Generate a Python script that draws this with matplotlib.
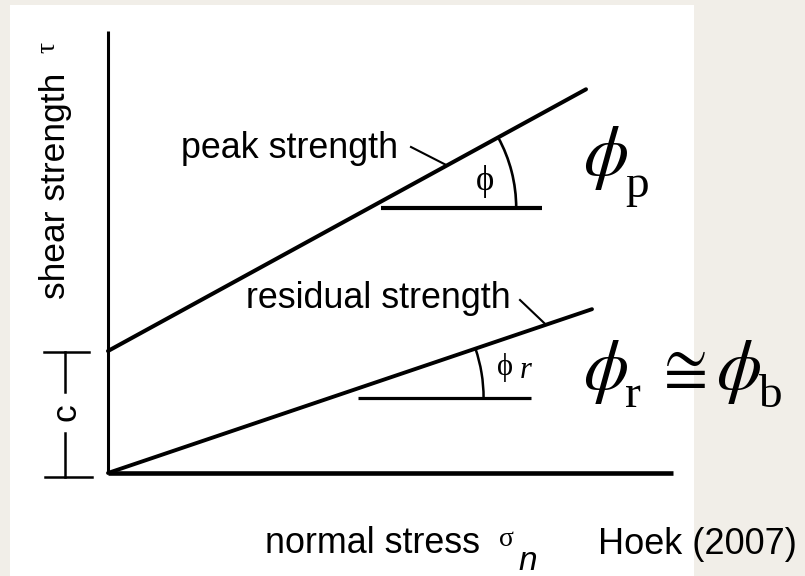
import numpy as np
import matplotlib
matplotlib.use("Agg")
import matplotlib.pyplot as plt
from matplotlib.patches import Arc, Rectangle

# Mohr-Coulomb strength envelopes (diagram units: 1 unit = 1 px)
cohesion = 122.0          # intercept of peak envelope on the tau axis
phi_peak_deg = 28.7       # peak friction angle
phi_resid_deg = 18.7      # residual friction angle
sigma_end_peak = 478.0    # extent of peak envelope along sigma_n
sigma_end_resid = 484.0   # extent of residual envelope along sigma_n
sigma_axis_max = 565.0
tau_axis_max = 442.0

# horizontal reference segments and angle arcs
peak_ref = (273.0, 434.0)      # sigma range of peak reference segment
resid_ref = (250.0, 423.0)
peak_ref_tau = 265.0
resid_ref_tau = 75.0
peak_arc_r = 147.0
resid_arc_r = 154.0

labels = {
    "peak": "peak strength",
    "resid": "residual strength",
    "xlabel": "normal stress",
    "ylabel": "shear strength",
    "source": "Hoek (2007)",
}

BG = "#F1EEE8"
SANS = ["Liberation Sans", "DejaVu Sans"]
SERIF = ["Liberation Serif", "DejaVu Serif"]
plt.rcParams["mathtext.fontset"] = "stix"

fig = plt.figure(figsize=(8.05, 5.76), dpi=100, facecolor=BG)
ax = fig.add_axes([0, 0, 1, 1])
ax.set_xlim(-108, 697)
ax.set_ylim(-103, 473)
ax.axis("off")

# white drawing panel
ax.add_patch(Rectangle((-98, -103), 684, 571, facecolor="white",
                       edgecolor="none", zorder=0))

# axes of the diagram
ax.plot([0, 0], [0, tau_axis_max], color="black", lw=2.2, solid_capstyle="butt")
ax.plot([0, sigma_axis_max], [0, 0], color="black", lw=3.3, solid_capstyle="butt")

# envelopes
tp = np.tan(np.radians(phi_peak_deg))
tr = np.tan(np.radians(phi_resid_deg))
sp = np.array([0, sigma_end_peak])
sr = np.array([0, sigma_end_resid])
ax.plot(sp, cohesion + tp * sp, color="black", lw=2.9, solid_capstyle="round")
ax.plot(sr, tr * sr, color="black", lw=2.8, solid_capstyle="round")

# reference segments
ax.plot(peak_ref, [peak_ref_tau] * 2, color="black", lw=3.0, solid_capstyle="butt")
ax.plot(resid_ref, [resid_ref_tau] * 2, color="black", lw=2.3, solid_capstyle="butt")

# angle arcs, centred where each envelope crosses its reference level
cx_p = (peak_ref_tau - cohesion) / tp
cx_r = resid_ref_tau / tr
ax.add_patch(Arc((cx_p, peak_ref_tau), 2 * peak_arc_r, 2 * peak_arc_r,
                 theta1=0, theta2=phi_peak_deg, color="black", lw=1.9))
ax.add_patch(Arc((cx_r, resid_ref_tau), 2 * resid_arc_r, 2 * resid_arc_r,
                 theta1=0, theta2=phi_resid_deg, color="black", lw=1.8))

# leader lines from labels to envelopes
lp_x = 339.0
ax.plot([303, lp_x], [326, cohesion + tp * lp_x], color="black", lw=1.5)
lr_x = 438.0
ax.plot([412, lr_x], [173, tr * lr_x], color="black", lw=1.5)

ax.text(290, 324, labels["peak"], ha="right", va="center",
        fontsize=25.8, family=SANS)
ax.text(403, 174, labels["resid"], ha="right", va="center",
        fontsize=25.8, family=SANS)

# angle symbols
ax.text(377, 291, "\u03d5", ha="center", va="center", fontsize=25, family=SERIF)
ax.text(397, 106, "\u03d5", ha="center", va="center", fontsize=22, family=SERIF)
ax.text(418, 103, "r", ha="center", va="center", fontsize=22,
        family=SERIF, style="italic")

# cohesion bracket
ax.plot([-64, -19], [cohesion - 1, cohesion - 1], color="black", lw=1.8)
ax.plot([-63, -16], [-4, -4], color="black", lw=1.8)
ax.plot([-43, -43], [cohesion - 1, 81], color="black", lw=1.8)
ax.plot([-43, -43], [40, -4], color="black", lw=1.8)
ax.text(-33, 61, "c", rotation=90, rotation_mode="anchor", ha="center",
        va="baseline", fontsize=25.5, family=SANS)

# axis titles
ax.text(-43, 287, labels["ylabel"], rotation=90, rotation_mode="anchor",
        ha="center", va="baseline", fontsize=25.5, family=SANS)
ax.text(-60, 426, "\u03c4", rotation=90, rotation_mode="anchor",
        ha="center", va="center", fontsize=20, family=SERIF)
ax.text(157, -80, labels["xlabel"], ha="left", va="baseline",
        fontsize=25.8, family=SANS)
ax.text(398, -66, "\u03c3", ha="center", va="center", fontsize=20, family=SERIF)
ax.text(420, -88, "n", ha="center", va="center", fontsize=24,
        family=SANS, style="italic")
ax.text(490, -72, labels["source"], ha="left", va="center",
        fontsize=26, family=SANS)

# friction angle notation
BIG = 52
SUB = 34
ax.text(497, 316, r"$\phi$", ha="center", va="center", fontsize=BIG)
ax.text(517, 276, "p", ha="left", va="baseline", fontsize=SUB, family=SERIF)
ax.text(497, 102, r"$\phi$", ha="center", va="center", fontsize=BIG)
ax.text(517, 66, "r", ha="left", va="baseline", fontsize=SUB, family=SERIF)
ax.text(572, 105, r"$\cong$", ha="center", va="center", fontsize=46)
ax.text(630, 102, r"$\phi$", ha="center", va="center", fontsize=BIG)
ax.text(650, 66, "b", ha="left", va="baseline", fontsize=SUB, family=SERIF)

fig.savefig("out.png", dpi=100, facecolor=BG)
